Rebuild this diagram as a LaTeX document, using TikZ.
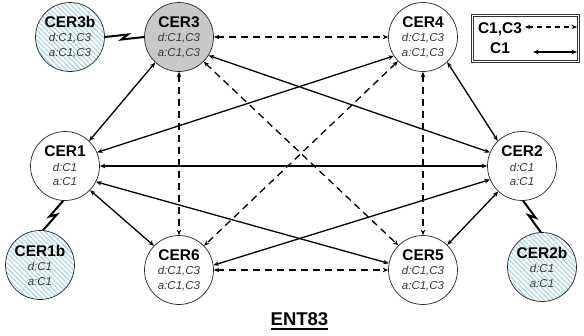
\documentclass[tikz,border=0pt]{standalone}
\usepackage{fontspec}
\setmainfont{Liberation Sans}
\usetikzlibrary{arrows.meta,calc,patterns.meta}

\definecolor{labelgray}{HTML}{383838}
\definecolor{hatchblue}{HTML}{A8D5E0}
\definecolor{hubgray}{HTML}{C8C8C8}

% three-line label of a CER node: name, d: list, a: list
\newcommand\cerlabel[3]{{\fontsize{15.5}{15}\selectfont\bfseries #1}\\{\itshape\color{labelgray}#2}\\{\itshape\color{labelgray}#3}}

\begin{document}
\begin{tikzpicture}[x=1pt,y=-1pt,
  cer/.style={circle,draw=black!85,line width=0.7pt,minimum size=69pt,inner sep=0pt,
              align=center,font=\fontsize{11.5}{14.5}\selectfont,fill=white},
  hub/.style={cer,fill=hubgray},
  backup/.style={circle,draw=black!85,line width=0.7pt,minimum size=69pt,inner sep=0pt,
              align=center,font=\fontsize{11.5}{14.5}\selectfont,
              preaction={fill=white},
              pattern={Lines[angle=-45,distance=3.5pt,line width=1.1pt]},pattern color=hatchblue},
  link/.style={line width=1.3pt,{Stealth[length=5.5pt,width=4.5pt]}-{Stealth[length=5.5pt,width=4.5pt]}},
  c13/.style={link,dash pattern=on 7pt off 5pt},
  c1/.style={link},
  bolt/.style={line width=2pt,miter limit=12,line join=miter},
  legendtext/.style={font=\fontsize{15.5}{15}\selectfont\bfseries,inner sep=0pt}
]
\useasboundingbox (0,0) rectangle (584,335);

% nodes
\node[backup] (CER3b) at (70,37)  {\cerlabel{CER3b}{d:C1,C3}{a:C1,C3}};
\node[hub]    (CER3)  at (179,37) {\cerlabel{CER3}{d:C1,C3}{a:C1,C3}};
\node[cer]    (CER4)  at (423,37) {\cerlabel{CER4}{d:C1,C3}{a:C1,C3}};
\node[cer]    (CER1)  at (65,166) {\cerlabel{CER1}{d:C1}{a:C1}};
\node[cer]    (CER2)  at (522,166){\cerlabel{CER2}{d:C1}{a:C1}};
\node[backup] (CER1b) at (40,265) {\cerlabel{CER1b}{d:C1}{a:C1}};
\node[cer]    (CER6)  at (179,270){\cerlabel{CER6}{d:C1,C3}{a:C1,C3}};
\node[cer]    (CER5)  at (423,270){\cerlabel{CER5}{d:C1,C3}{a:C1,C3}};
\node[backup] (CER2b) at (542,267){\cerlabel{CER2b}{d:C1}{a:C1}};

% C1,C3 links
\draw[c13] (CER3.0)   -- (CER4.180);
\draw[c13] (CER3.270) -- (CER6.90);
\draw[c13] (CER4.270) -- (CER5.90);
\draw[c13] (CER6.0)   -- (CER5.180);
\draw[c13] (CER3.-45) -- (CER5.135);
\draw[c13] (CER4.224) -- (CER6.44);

% C1 links
\draw[c1] (CER1.46)  -- (CER3.227);
\draw[c1] (CER1.23)  -- (CER4.213);
\draw[c1] (CER1.0)   -- (CER2.180);
\draw[c1] (CER1.-27) -- (CER5.169);
\draw[c1] (CER1.-44) -- (CER6.136);
\draw[c1] (CER3.-32) -- (CER2.157);
\draw[c1] (CER4.-46) -- (CER2.134);
\draw[c1] (CER6.8)   -- (CER2.203);
\draw[c1] (CER5.46)  -- (CER2.227);

% radio links to the backup sites
\draw[bolt] (CER3b.0)
  -- ($(CER3b.0)!0.58!(CER3.180)!2.5pt!90:(CER3.180)$)
  -- ($(CER3b.0)!0.42!(CER3.180)!2.5pt!-90:(CER3.180)$)
  -- (CER3.180);
\draw[bolt] (CER1.-93)
  -- ($(CER1.-93)!0.58!(CER1b.85)!2.5pt!-90:(CER1b.85)$)
  -- ($(CER1.-93)!0.42!(CER1b.85)!2.5pt!90:(CER1b.85)$)
  -- (CER1b.85);
\draw[bolt] (CER2.-88)
  -- ($(CER2.-88)!0.58!(CER2b.92)!2.5pt!90:(CER2b.92)$)
  -- ($(CER2.-88)!0.42!(CER2b.92)!2.5pt!-90:(CER2b.92)$)
  -- (CER2b.92);

% legend: framed box with a double border
\node[draw=black!80,line width=0.7pt,minimum width=108pt,minimum height=48pt,
      inner sep=0pt] (legend) at (525.5,38.5) {};
\draw[black!80,line width=0.7pt]
  ($(legend.north west)+(2.2,2.2)$) rectangle ($(legend.south east)+(-2.2,-2.2)$);
\node[legendtext] (lgA) at (500,29) {C1,C3};
\node[legendtext] (lgB) at (500,48) {C1};
\coordinate (lgAs) at (525,27);
\coordinate (lgAe) at (577,27);
\coordinate (lgBs) at (533,52);
\coordinate (lgBe) at (577,52);
\draw[c13,dash pattern=on 5pt off 4pt] (lgAs) -- (lgAe);
\draw[c1] (lgBs) -- (lgBe);

% title
\node[font=\fontsize{18.5}{19}\selectfont\bfseries,inner sep=0pt] (title) at (299.5,319) {ENT83};
\draw[line width=1.6pt] ($(title.base west)+(0,3.5)$) -- ($(title.base east)+(0,3.5)$);
\end{tikzpicture}
\end{document}
